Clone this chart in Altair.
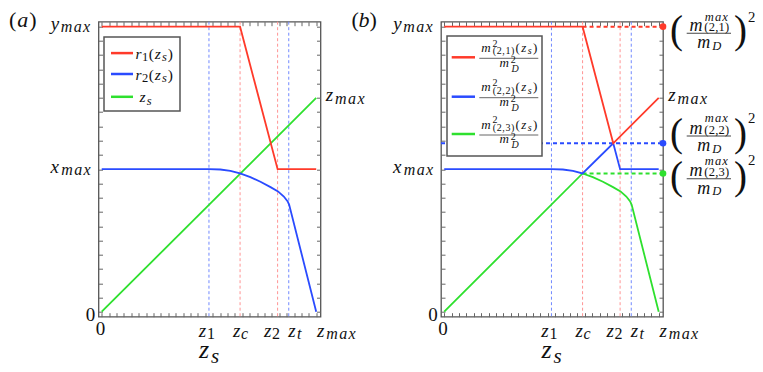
import altair as alt
import pandas as pd

# ---------------- data ----------------
Z_MARK_POS = [0.50, 0.645, 0.82, 0.872]            # z1, zc, z2, zt
Z_MARK_COLOR = ["#7088ff", "#ff9494", "#ff9494", "#7088ff"]

A_R1_Z = [0.0, 0.645, 0.82, 1.0]
A_R1_V = [1.0, 1.0, 0.5, 0.5]
A_R2_Z = [0.0, 0.5, 0.553, 0.6, 0.645, 0.693, 0.74, 0.787, 0.822, 0.849, 0.867, 0.874, 1.0]
A_R2_V = [0.5, 0.5, 0.499, 0.494, 0.485, 0.472, 0.456, 0.437, 0.422, 0.404, 0.387, 0.375, 0.0]
A_ZS_Z = [0.0, 1.0]
A_ZS_V = [0.0, 0.75]

B_M1_Z = [0.0, 0.645, 0.788, 1.0]
B_M1_V = [1.0, 1.0, 0.591, 0.75]
B_M2_Z = [0.0, 0.5, 0.553, 0.6, 0.645, 0.788, 0.82, 1.0]
B_M2_V = [0.5, 0.5, 0.499, 0.494, 0.485, 0.591, 0.5, 0.5]
B_M3_Z = [0.0, 0.645, 0.693, 0.74, 0.787, 0.822, 0.849, 0.867, 0.874, 1.0]
B_M3_V = [0.0, 0.485, 0.472, 0.456, 0.437, 0.422, 0.404, 0.387, 0.375, 0.0]

B_MAX_LEVEL = [1.0, 0.591, 0.485]
B_MAX_FROM = [0.645, -0.015, 0.645]
B_MAX_AT = 1.02

X_LAB_POS = [0.0, 0.5, 0.645, 0.82, 0.872, 1.0]
X_LAB_MAIN = ["0", "z", "z", "z", "z", "z"]
X_LAB_SUB = ["", "1", "c", "2", "t", "max"]
X_LAB_NUDGE = [-1.2, -2.5, 0.0, -6.0, 6.0, 0.0]
X_LAB_ALIGN = ["center", "center", "center", "center", "center", "left"]

X_TICKS = [round(i / 29, 5) for i in range(30)]
Y_TICKS = [round(i * 0.05, 3) for i in range(21)]

RED, BLUE, GREEN = "#ff3a2a", "#2a4bff", "#2ee02e"
INK = "#111111"
GRAY = "#555555"
FONT = "Liberation Serif"
MAIN, SUB = 19, 16
W, H = 222, 295

XS = alt.Scale(domain=[-0.015, 1.02], nice=False, zero=False)
YS = alt.Scale(domain=[-0.0175, 1.0175], nice=False, zero=False)
EMPTY = pd.DataFrame({"k": [0]})

CM = {'a': .529, 'b': .429, 'c': .433, 'm': .878, 'x': .572, 'y': .490, 'z': .465,
      's': .469, 't': .361, 'r': .451, 'D': .828, '(': .389, ')': .389, ',': .278}


def XD(v):
    return alt.XDatum(datum=v, type="quantitative", scale=XS, axis=None)


def YD(v):
    return alt.YDatum(datum=v, type="quantitative", scale=YS, axis=None)


def adv(ch, size, k=1.0):
    return CM.get(ch, 0.5) * size * k


def glyph(ch, ax, ay, dx, dy, size, color):
    return alt.Chart(EMPTY).mark_text(
        text=ch, align="center", baseline="alphabetic", font=FONT,
        fontStyle="italic" if ch.isalpha() else "normal",
        fontSize=size, dx=round(dx, 2), dy=round(dy, 2), color=color,
    ).encode(x=ax, y=ay)


def rich(groups, ax, ay, align="left", dx=0.0, dy=0.0, k=1.0, color=INK):
    widths = [max(sum(adv(c, s, k) for c in t) for t, s, d in g) for g in groups]
    total = sum(widths)
    cur = dx - {"left": 0.0, "center": total / 2, "right": total}[align]
    out = []
    for g, w in zip(groups, widths):
        for t, s, d in g:
            c = cur
            for ch in t:
                a = adv(ch, s, k)
                out.append(glyph(ch, ax, ay, c + a / 2, dy + d, s, color))
                c += a
        cur += w
    return out


def axis(orient, values):
    return alt.Axis(orient=orient, values=values, tickSize=4, offset=-4, labels=False,
                    domain=False, grid=False, title="", tickColor="#666666", tickWidth=1)


def series(zs, vs, color, width=1.8, dash=None, axes=None):
    df = pd.DataFrame({"z": zs, "v": vs})
    kw = dict(color=color, strokeWidth=width)
    if dash:
        kw["strokeDash"] = dash
    if axes:
        xa = axis(axes[0], X_TICKS)
        ya = axis(axes[1], Y_TICKS)
    else:
        xa = None
        ya = None
    return alt.Chart(df).mark_line(**kw).encode(
        x=alt.X("z:Q", scale=XS, axis=xa),
        y=alt.Y("v:Q", scale=YS, axis=ya),
    )


def verticals():
    df = pd.DataFrame({"z": Z_MARK_POS, "c": Z_MARK_COLOR})
    return alt.Chart(df).mark_rule(strokeDash=[3, 2.5], strokeWidth=1).encode(
        x=alt.X("z:Q", scale=XS, axis=None),
        color=alt.Color("c:N", scale=None),
    )


def common_text(tag):
    L = []
    L += rich([[("(" + tag + ")", 22, 0.5)]], XD(0), YD(1), "left", dx=-93.4)
    L += rich([[("y", MAIN, 3)], [("max", SUB, 5.5)]], XD(0), YD(1), "right", dx=-10.5)
    L += rich([[("x", MAIN, 3.5)], [("max", SUB, 6)]], XD(0), YD(0.5), "right", dx=-10)
    L += rich([[("0", MAIN, 9.7)]], XD(0), YD(0), "right", dx=-6.5)
    for p, m, s, n, al in zip(X_LAB_POS, X_LAB_MAIN, X_LAB_SUB, X_LAB_NUDGE, X_LAB_ALIGN):
        if s:
            g = [[(m, MAIN, 25)], [(s, SUB, 26.8)]]
        else:
            g = [[(m, MAIN, 23)]]
        L += rich(g, XD(p), YD(0), al, dx=n)
    L += rich([[("z", 26, 46)], [("s", 21, 51)]], XD(0.5), YD(0), "center")
    L += rich([[("z", MAIN, 3.3)], [("max", SUB, 6.3)]], XD(1.0), YD(0.75), "left", dx=8.8)
    return L


def box(x1, x2, y1, y2):
    return alt.Chart(EMPTY).mark_rect(fill="white", stroke=GRAY, strokeWidth=1.5).encode(
        x=alt.value(x1), x2=alt.value(x2), y=alt.value(y1), y2=alt.value(y2))


def hrule(x1, x2, y, color, width=2.5):
    return alt.Chart(EMPTY).mark_rule(color=color, strokeWidth=width).encode(
        x=alt.value(x1), x2=alt.value(x2), y=alt.value(y))


# ---------------- panel (a) ----------------
la = [verticals(),
      series(A_ZS_Z, A_ZS_V, GREEN, axes=("bottom", "left")),
      series(A_R2_Z, A_R2_V, BLUE),
      series(A_R1_Z, A_R1_V, RED, axes=("top", "right")),
      box(5.5, 81.5, 15.3, 89.3)]
LEG_A_Y = [31.4, 52.3, 75.1]
for yy, col in zip(LEG_A_Y, [RED, BLUE, GREEN]):
    la.append(hrule(12.5, 34.5, yy, col))
for yy, j in zip(LEG_A_Y[:2], ["1", "2"]):
    la += rich([[("r", 15.5, 5.5)], [(j, 12.5, 8)], [("(", 15.5, 5.5)], [("z", 15.5, 5.5)],
                [("s", 12.5, 8)], [(")", 15.5, 5.5)]], alt.value(36.5), alt.value(yy), "left")
la += rich([[("z", 15.5, 5.5)], [("s", 12.5, 8)]], alt.value(40.5), alt.value(LEG_A_Y[2]), "left")
la += common_text("a")
panel_a = alt.layer(*la).properties(width=W, height=H).resolve_axis(x="independent", y="independent")

# ---------------- panel (b) ----------------
lb = [verticals()]
for lev, z0, col in zip(B_MAX_LEVEL, B_MAX_FROM, [RED, BLUE, GREEN]):
    lb.append(series([z0, B_MAX_AT], [lev, lev], col, width=2, dash=[4, 3]))
lb += [series(B_M3_Z, B_M3_V, GREEN, axes=("bottom", "left")),
       series(B_M2_Z, B_M2_V, BLUE),
       series(B_M1_Z, B_M1_V, RED, axes=("top", "right"))]
dots = pd.DataFrame({"z": [B_MAX_AT] * 3, "v": B_MAX_LEVEL, "c": [RED, BLUE, GREEN]})
lb.append(alt.Chart(dots).mark_circle(size=44, opacity=1).encode(
    x=alt.X("z:Q", scale=XS, axis=None), y=alt.Y("v:Q", scale=YS, axis=None),
    color=alt.Color("c:N", scale=None)))
lb.append(box(6, 101, 14.3, 134.3))
LEG_B_Y = [35.6, 75.0, 112.3]
for yy, col, j in zip(LEG_B_Y, [RED, BLUE, GREEN], ["1", "2", "3"]):
    lb.append(hrule(10.7, 34, yy, col))
    by = yy + 1
    lb.append(hrule(38.3, 97.3, by, "#666666", width=1))
    num = [[("m", 13, -6.5)], [("2", 10, -11.6), ("(2," + j + ")", 10, -4)], [("(", 13, -6.5)],
           [("z", 13, -6.5)], [("s", 10, -4)], [(")", 13, -6.5)]]
    lb += rich(num, alt.value(67.8), alt.value(by), "center", k=1.1)
    den = [[("m", 13, 8.4)], [("2", 10, 4.5), ("D", 10, 13.4)]]
    lb += rich(den, alt.value(67.8), alt.value(by), "center", k=1.1)

PAREN = 39
BAR_OFF = [6.5, -7.2, 5.3]
MAXSUP_OFF = [-12.5, -14.0, -14.0]
SUP_OFF = [-11.5, -13.4, -13.4]
for lev, bo, mo, so, j in zip(B_MAX_LEVEL, BAR_OFF, MAXSUP_OFF, SUP_OFF, ["1", "2", "3"]):
    ax, ay = XD(B_MAX_AT), YD(lev)
    lb += rich([[("(", PAREN, bo + 9.75)]], ax, ay, "center", dx=13.5)
    lb.append(alt.Chart(EMPTY).mark_rule(color="#444444", strokeWidth=1.1, yOffset=bo).encode(
        x=alt.value(W + 23.7), x2=alt.value(W + 68), y=ay))
    lb += rich([[("m", 18, bo - 2.5)], [("max", 12.5, bo + mo), ("(2," + j + ")", 12.5, bo - 2.5)]],
               ax, ay, "center", dx=45.85)
    lb += rich([[("m", 18, bo + 15)], [("D", 12.5, bo + 16.6)]], ax, ay, "center", dx=45.85)
    lb += rich([[(")", PAREN, bo + 9.75)]], ax, ay, "center", dx=77.5)
    lb += rich([[("2", 14.8, bo + so)]], ax, ay, "center", dx=88.7)
lb += common_text("b")
panel_b = alt.layer(*lb).properties(width=W, height=H).resolve_axis(x="independent", y="independent")

chart = alt.hconcat(panel_a, panel_b, spacing=120.5, bounds="flush").properties(
    autosize=alt.AutoSizeParams(type="none"),
    padding={"left": 90.5, "top": 13.7, "right": 656.5, "bottom": 342.3},
).configure_view(stroke=GRAY, strokeWidth=1.3)

chart.save("out.html", embed_options={"renderer": "svg", "actions": False})
